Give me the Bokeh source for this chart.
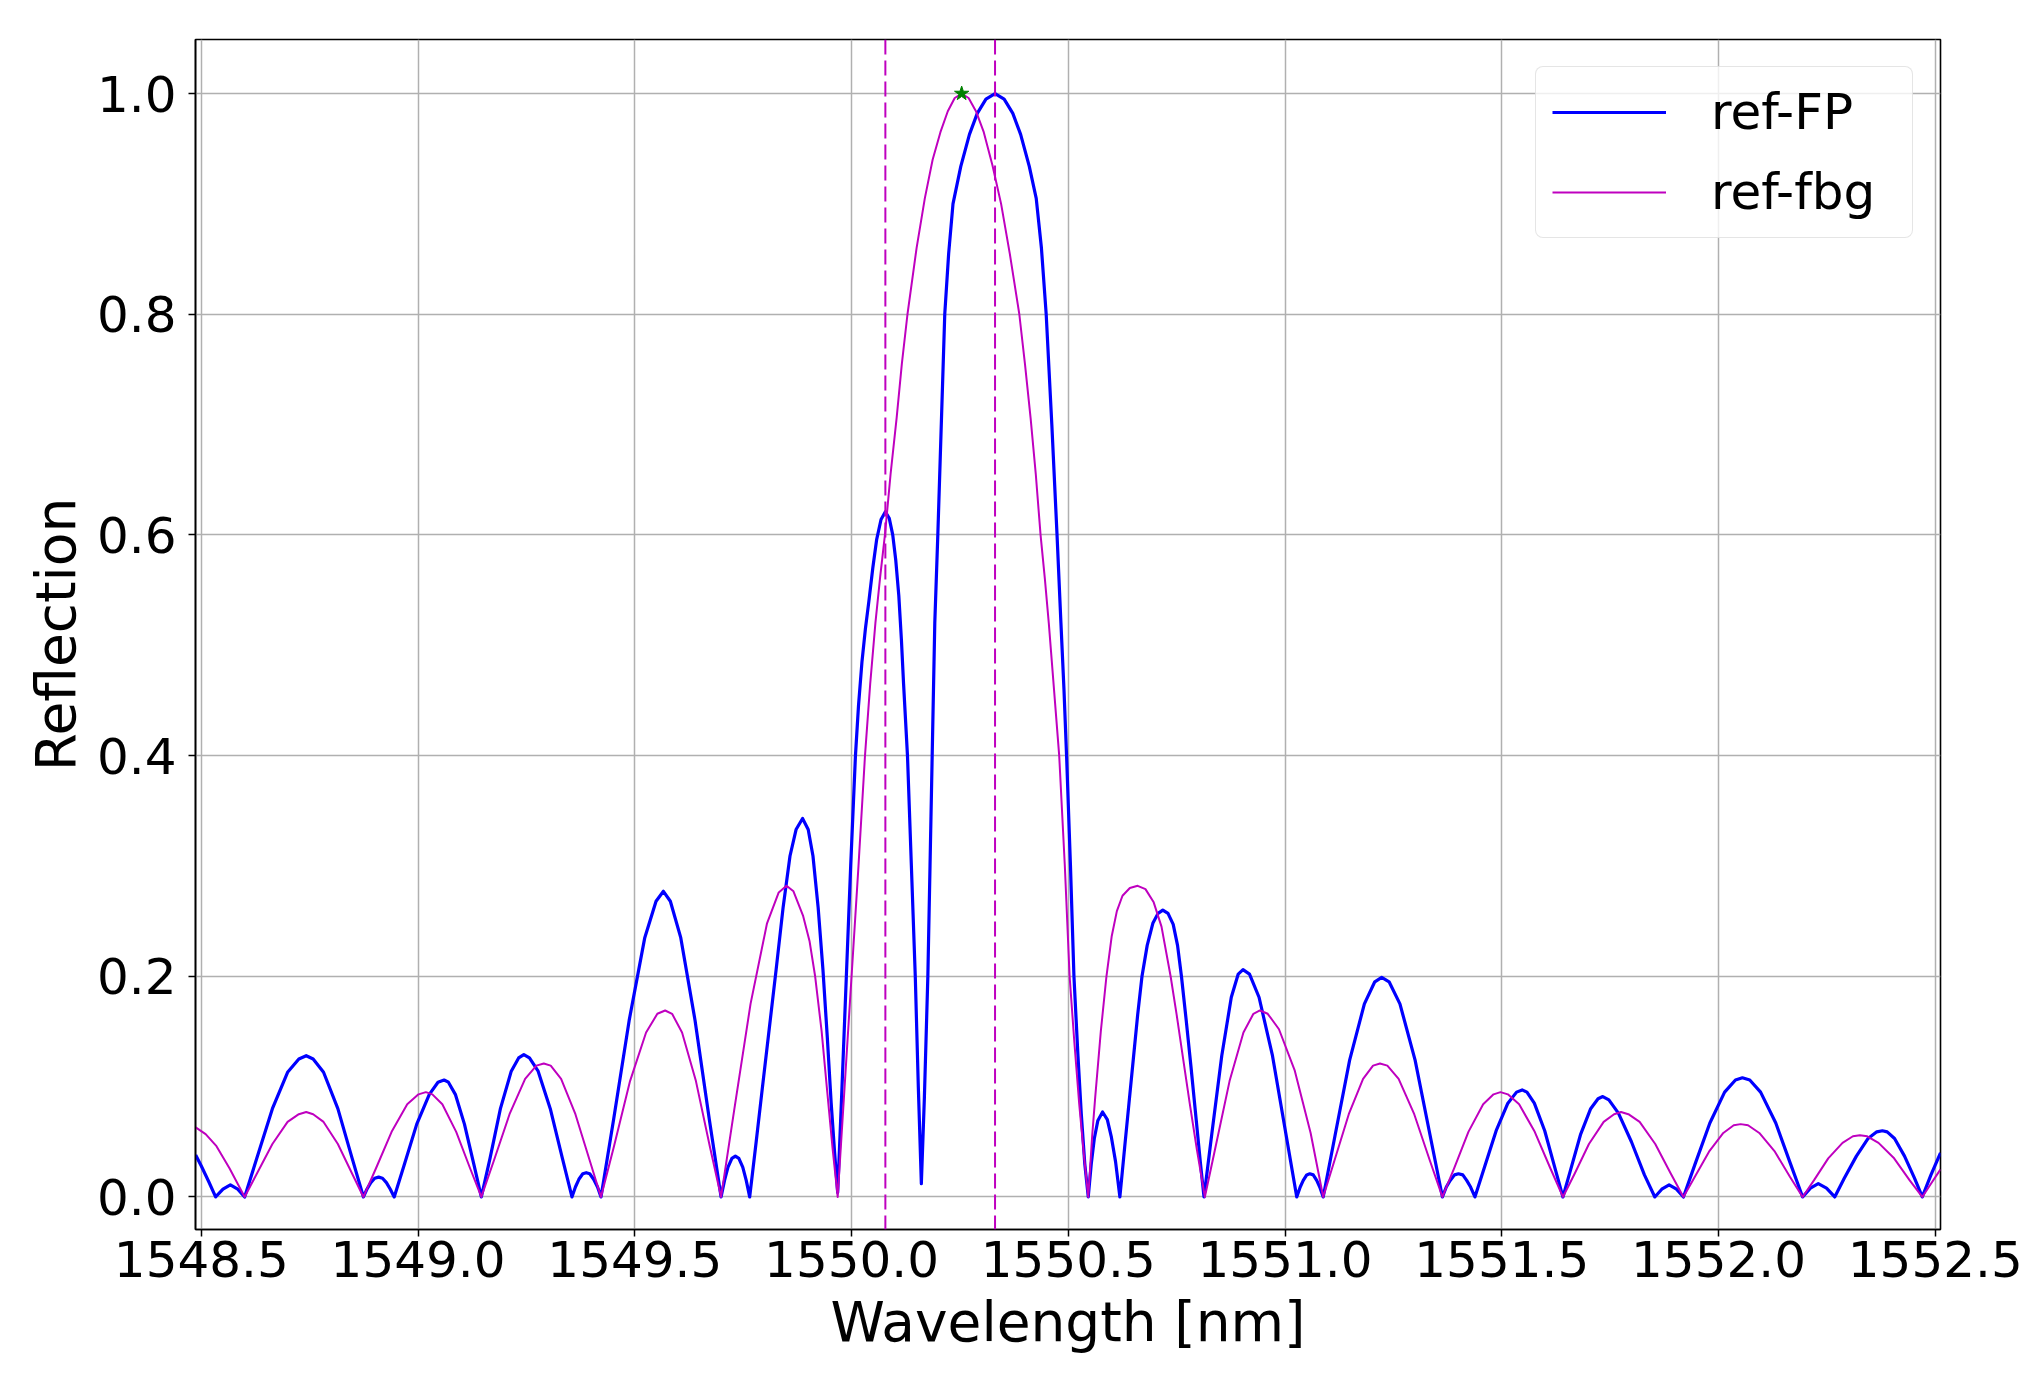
from bokeh.plotting import figure
from bokeh.models import (FixedTicker, PrintfTickFormatter, Span, Legend,
                          LegendItem, ColumnDataSource, Range1d)
from bokeh.embed import file_html
from bokeh.resources import INLINE

# ---------------- data ----------------
fp_wl = [
    1548.487, 1548.500, 1548.517, 1548.533,
    1548.550, 1548.567, 1548.584, 1548.600,
    1548.628, 1548.664, 1548.699, 1548.725, 1548.742, 1548.758, 1548.782, 1548.815, 1548.848, 1548.874,
    1548.882, 1548.891, 1548.900, 1548.909, 1548.918, 1548.927, 1548.936, 1548.945,
    1548.968, 1548.997, 1549.026, 1549.046, 1549.060, 1549.070, 1549.086, 1549.107, 1549.129, 1549.146,
    1549.166, 1549.190, 1549.215, 1549.232, 1549.244, 1549.257, 1549.277, 1549.305, 1549.333, 1549.355,
    1549.363, 1549.371, 1549.380, 1549.388, 1549.396, 1549.405, 1549.414, 1549.422,
    1549.451, 1549.487, 1549.523, 1549.549, 1549.566, 1549.582, 1549.606, 1549.639, 1549.672, 1549.699,
    1549.707, 1549.715, 1549.724, 1549.732, 1549.740, 1549.749, 1549.757, 1549.765,
    1549.780, 1549.794, 1549.810, 1549.826, 1549.842, 1549.858, 1549.872, 1549.887,
    1549.900, 1549.911, 1549.923, 1549.934, 1549.944, 1549.953, 1549.961, 1549.968,
    1549.978, 1549.988, 1549.998, 1550.009, 1550.016, 1550.024, 1550.032, 1550.040,
    1550.049, 1550.058, 1550.068, 1550.078, 1550.087, 1550.095, 1550.102, 1550.109,
    1550.115, 1550.120, 1550.129, 1550.138, 1550.147, 1550.154, 1550.161,
    1550.168, 1550.176, 1550.181, 1550.186, 1550.192, 1550.199, 1550.207, 1550.215,
    1550.224, 1550.234, 1550.252, 1550.272, 1550.290, 1550.310, 1550.331, 1550.352,
    1550.372, 1550.390, 1550.410, 1550.426, 1550.438, 1550.449, 1550.462, 1550.474,
    1550.483, 1550.490, 1550.496, 1550.505, 1550.513, 1550.522, 1550.530, 1550.538, 1550.546,
    1550.553, 1550.560, 1550.568, 1550.579, 1550.590, 1550.599, 1550.609, 1550.619,
    1550.630, 1550.640, 1550.650, 1550.660, 1550.670, 1550.682, 1550.695, 1550.707, 1550.718,
    1550.730, 1550.742, 1550.752, 1550.761, 1550.772, 1550.783, 1550.795, 1550.805, 1550.813,
    1550.831, 1550.854, 1550.876, 1550.892, 1550.903, 1550.918, 1550.940, 1550.971, 1551.002, 1551.027,
    1551.035, 1551.042, 1551.050, 1551.057, 1551.065, 1551.073, 1551.080, 1551.088,
    1551.115, 1551.149, 1551.183, 1551.207, 1551.223, 1551.240, 1551.265, 1551.300, 1551.335, 1551.363,
    1551.372, 1551.381, 1551.391, 1551.400, 1551.410, 1551.419, 1551.428, 1551.438,
    1551.460, 1551.487, 1551.514, 1551.534, 1551.547, 1551.558, 1551.575, 1551.599, 1551.622, 1551.641,
    1551.659, 1551.682, 1551.705, 1551.722, 1551.733, 1551.747, 1551.769, 1551.799, 1551.829, 1551.853,
    1551.869, 1551.886, 1551.903, 1551.919,
    1551.946, 1551.980, 1552.014, 1552.039, 1552.055, 1552.072, 1552.097, 1552.132, 1552.166, 1552.194,
    1552.212, 1552.230, 1552.249, 1552.268,
    1552.290, 1552.318, 1552.345, 1552.365, 1552.378, 1552.389, 1552.406, 1552.429, 1552.452, 1552.470,
    1552.490, 1552.512]
fp_refl = [
    0.038, 0.028, 0.014, 0.000,
    0.007, 0.011, 0.007, 0.000,
    0.035, 0.080, 0.113, 0.125, 0.128, 0.125, 0.113, 0.080, 0.035, 0.000,
    0.007, 0.013, 0.017, 0.018, 0.017, 0.013, 0.007, 0.000,
    0.029, 0.066, 0.093, 0.104, 0.106, 0.104, 0.093, 0.066, 0.029, 0.000,
    0.035, 0.080, 0.114, 0.126, 0.129, 0.126, 0.114, 0.080, 0.035, 0.000,
    0.009, 0.016, 0.021, 0.022, 0.021, 0.016, 0.009, 0.000,
    0.070, 0.160, 0.235, 0.268, 0.277, 0.268, 0.235, 0.160, 0.070, 0.000,
    0.015, 0.027, 0.035, 0.037, 0.035, 0.027, 0.015, 0.000,
    0.050, 0.098, 0.152, 0.206, 0.262, 0.309, 0.333, 0.343,
    0.333, 0.309, 0.262, 0.206, 0.145, 0.085, 0.040, 0.004,
    0.100, 0.200, 0.300, 0.400, 0.445, 0.485, 0.515, 0.540,
    0.570, 0.596, 0.614, 0.621, 0.615, 0.600, 0.577, 0.545,
    0.505, 0.465, 0.400, 0.300, 0.200, 0.100, 0.012,
    0.090, 0.200, 0.300, 0.400, 0.520, 0.600, 0.700, 0.800,
    0.855, 0.900, 0.934, 0.963, 0.982, 0.995, 1.000, 0.995,
    0.982, 0.963, 0.934, 0.905, 0.860, 0.800, 0.700, 0.600,
    0.520, 0.460, 0.400, 0.300, 0.200, 0.130, 0.075, 0.030, 0.000,
    0.030, 0.053, 0.069, 0.077, 0.070, 0.055, 0.032, 0.000,
    0.045, 0.085, 0.125, 0.165, 0.200, 0.228, 0.248, 0.257, 0.260,
    0.257, 0.247, 0.228, 0.200, 0.160, 0.118, 0.070, 0.030, 0.000,
    0.057, 0.128, 0.181, 0.202, 0.206, 0.202, 0.181, 0.128, 0.057, 0.000,
    0.009, 0.015, 0.020, 0.021, 0.020, 0.015, 0.009, 0.000,
    0.055, 0.124, 0.175, 0.195, 0.199, 0.195, 0.175, 0.124, 0.055, 0.000,
    0.009, 0.015, 0.020, 0.021, 0.020, 0.015, 0.009, 0.000,
    0.027, 0.060, 0.085, 0.095, 0.097, 0.095, 0.085, 0.060, 0.027, 0.000,
    0.025, 0.057, 0.080, 0.089, 0.091, 0.088, 0.076, 0.050, 0.020, 0.000,
    0.007, 0.011, 0.007, 0.000,
    0.030, 0.067, 0.095, 0.106, 0.108, 0.106, 0.095, 0.067, 0.030, 0.000,
    0.008, 0.012, 0.008, 0.000,
    0.017, 0.037, 0.053, 0.059, 0.060, 0.059, 0.053, 0.037, 0.017, 0.000,
    0.020, 0.040]

fbg_wl = [
    1548.487, 1548.510, 1548.535, 1548.565, 1548.600,
    1548.628, 1548.664, 1548.699, 1548.725, 1548.742, 1548.758, 1548.782, 1548.815, 1548.848, 1548.874,
    1548.903, 1548.939, 1548.975, 1549.001, 1549.018, 1549.033, 1549.056, 1549.088, 1549.120, 1549.146,
    1549.175, 1549.211, 1549.247, 1549.273, 1549.290, 1549.306, 1549.330, 1549.363, 1549.396, 1549.422,
    1549.452, 1549.489, 1549.526, 1549.552, 1549.570, 1549.586, 1549.609, 1549.641, 1549.673, 1549.699,
    1549.729, 1549.767, 1549.805, 1549.832, 1549.850, 1549.866, 1549.888, 1549.903, 1549.916, 1549.931,
    1549.944, 1549.956, 1549.968,
    1549.984, 1550.000, 1550.016, 1550.031, 1550.043, 1550.055, 1550.066, 1550.077,
    1550.090, 1550.104, 1550.116, 1550.129, 1550.150, 1550.169, 1550.187, 1550.205,
    1550.222, 1550.238, 1550.254, 1550.270, 1550.287, 1550.305, 1550.325, 1550.345,
    1550.365, 1550.387, 1550.400, 1550.413, 1550.425, 1550.436, 1550.446, 1550.455,
    1550.467, 1550.479, 1550.492, 1550.503, 1550.514, 1550.525, 1550.536, 1550.546,
    1550.555, 1550.562, 1550.575, 1550.588, 1550.600, 1550.612, 1550.625, 1550.642, 1550.660,
    1550.678, 1550.697, 1550.715, 1550.736, 1550.750, 1550.765, 1550.780, 1550.797, 1550.815,
    1550.840, 1550.872, 1550.904, 1550.927, 1550.942, 1550.960, 1550.986, 1551.022, 1551.059, 1551.088,
    1551.114, 1551.147, 1551.180, 1551.203, 1551.219, 1551.236, 1551.262, 1551.298, 1551.334, 1551.363,
    1551.390, 1551.423, 1551.457, 1551.481, 1551.497, 1551.514, 1551.540, 1551.576, 1551.612, 1551.641,
    1551.668, 1551.701, 1551.735, 1551.759, 1551.775, 1551.792, 1551.818, 1551.854, 1551.890, 1551.919,
    1551.945, 1551.978, 1552.011, 1552.035, 1552.051, 1552.068, 1552.094, 1552.130, 1552.165, 1552.194,
    1552.220, 1552.253, 1552.286, 1552.310, 1552.326, 1552.343, 1552.369, 1552.405, 1552.441, 1552.470,
    1552.490, 1552.512]
fbg_refl = [
    0.063, 0.057, 0.046, 0.026, 0.000,
    0.021, 0.048, 0.068, 0.075, 0.077, 0.075, 0.068, 0.048, 0.021, 0.000,
    0.026, 0.059, 0.084, 0.093, 0.095, 0.093, 0.084, 0.059, 0.026, 0.000,
    0.033, 0.075, 0.107, 0.119, 0.121, 0.119, 0.107, 0.075, 0.033, 0.000,
    0.046, 0.105, 0.149, 0.166, 0.169, 0.166, 0.149, 0.105, 0.046, 0.000,
    0.078, 0.175, 0.248, 0.276, 0.282, 0.277, 0.255, 0.232, 0.200, 0.150,
    0.095, 0.045, 0.000,
    0.100, 0.200, 0.300, 0.400, 0.465, 0.520, 0.562, 0.600,
    0.655, 0.706, 0.755, 0.800, 0.860, 0.905, 0.940, 0.965,
    0.984, 0.996, 1.000, 0.996, 0.984, 0.965, 0.935, 0.900,
    0.855, 0.800, 0.755, 0.706, 0.655, 0.600, 0.560, 0.520,
    0.460, 0.400, 0.300, 0.200, 0.140, 0.085, 0.038, 0.000,
    0.055, 0.090, 0.150, 0.200, 0.236, 0.259, 0.273, 0.280, 0.282,
    0.279, 0.267, 0.245, 0.200, 0.165, 0.125, 0.085, 0.042, 0.000,
    0.046, 0.105, 0.149, 0.166, 0.169, 0.166, 0.152, 0.115, 0.058, 0.000,
    0.033, 0.075, 0.107, 0.119, 0.121, 0.119, 0.107, 0.075, 0.033, 0.000,
    0.026, 0.059, 0.084, 0.093, 0.095, 0.093, 0.084, 0.059, 0.026, 0.000,
    0.021, 0.048, 0.068, 0.075, 0.077, 0.075, 0.068, 0.048, 0.021, 0.000,
    0.018, 0.041, 0.058, 0.065, 0.066, 0.065, 0.058, 0.041, 0.018, 0.000,
    0.015, 0.035, 0.049, 0.055, 0.056, 0.055, 0.049, 0.035, 0.015, 0.000,
    0.012, 0.025]

peak_wl = [1550.254]
peak_refl = [1.0]
vline_wl = [1550.078, 1550.331]

x_ticks = [1548.5, 1549.0, 1549.5, 1550.0, 1550.5, 1551.0, 1551.5, 1552.0, 1552.5]
y_ticks = [0.0, 0.2, 0.4, 0.6, 0.8, 1.0]
x_label = "Wavelength [nm]"
y_label = "Reflection"
series_names = ["ref-FP", "ref-fbg"]

assert len(fp_wl) == len(fp_refl), (len(fp_wl), len(fp_refl))
assert len(fbg_wl) == len(fbg_refl), (len(fbg_wl), len(fbg_refl))

# ---------------- figure ----------------
FONT = "DejaVu Sans"
p = figure(width=2031, height=1380,
           x_range=Range1d(1548.4866, 1552.512),
           y_range=Range1d(-0.0295, 1.049),
           output_backend="svg", toolbar_location=None,
           min_border_left=195, min_border_right=91,
           min_border_top=39, min_border_bottom=151)
p.background_fill_color = "white"
p.border_fill_color = "white"
p.outline_line_color = "black"
p.outline_line_width = 1.6

src_fp = ColumnDataSource(dict(x=fp_wl, y=fp_refl))
src_fbg = ColumnDataSource(dict(x=fbg_wl, y=fbg_refl))

r_fp = p.line("x", "y", source=src_fp, line_color="#0000ff", line_width=3.2,
              line_join="round")
r_fbg = p.line("x", "y", source=src_fbg, line_color="#bf00bf", line_width=2.0,
               line_join="round")

for w in vline_wl:
    p.add_layout(Span(location=w, dimension="height", line_color="#bf00bf",
                      line_width=2, line_dash="15 6"))

p.scatter(x=peak_wl, y=peak_refl, marker="star", size=15,
          fill_color="green", line_color="green")

# axes
p.xaxis.ticker = FixedTicker(ticks=x_ticks)
p.yaxis.ticker = FixedTicker(ticks=y_ticks)
p.xgrid.ticker = FixedTicker(ticks=x_ticks)
p.ygrid.ticker = FixedTicker(ticks=y_ticks)
p.xaxis.formatter = PrintfTickFormatter(format="%.1f")
p.yaxis.formatter = PrintfTickFormatter(format="%.1f")
p.xaxis.axis_label = x_label
p.yaxis.axis_label = y_label
for ax in (p.xaxis[0], p.yaxis[0]):
    ax.major_tick_out = 7
    ax.major_tick_in = 0
    ax.minor_tick_out = 0
    ax.minor_tick_in = 0
    ax.major_tick_line_color = "black"
    ax.major_tick_line_width = 1.5
    ax.axis_line_color = "black"
    ax.axis_line_width = 1.6
    ax.major_label_text_font = FONT
    ax.major_label_text_font_size = "50px"
    ax.major_label_text_color = "black"
    ax.axis_label_text_font = FONT
    ax.axis_label_text_font_size = "55px"
    ax.axis_label_text_font_style = "normal"
    ax.axis_label_text_color = "black"
p.xaxis.major_label_standoff = 4
p.xaxis.axis_label_standoff = 10
p.yaxis.major_label_standoff = 12
p.yaxis.axis_label_standoff = 6

p.grid.grid_line_color = "#b0b0b0"
p.grid.grid_line_width = 1.5

legend = Legend(items=[LegendItem(label=series_names[0], renderers=[r_fp]),
                       LegendItem(label=series_names[1], renderers=[r_fbg])],
                location="top_right")
legend.margin = 27
legend.padding = 16
legend.spacing = 22
legend.glyph_width = 114
legend.glyph_height = 58
legend.label_height = 58
legend.label_width = 185
legend.label_standoff = 45
legend.label_text_font = FONT
legend.label_text_font_size = "50px"
legend.label_text_color = "black"
legend.border_line_color = "#cccccc"
legend.border_line_width = 1.5
legend.background_fill_color = "white"
legend.background_fill_alpha = 0.8
if "border_radius" in legend.properties():
    legend.border_radius = 8
p.add_layout(legend)

open("out.html", "w").write(file_html(p, INLINE))
